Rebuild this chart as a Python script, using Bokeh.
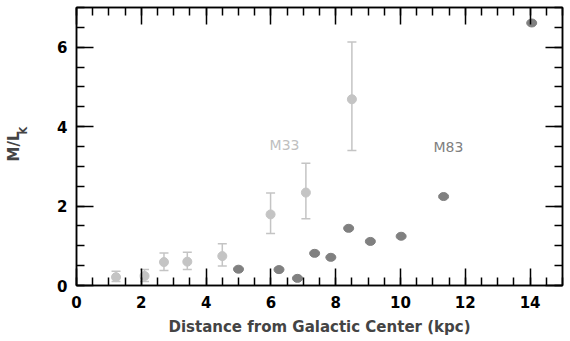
from bokeh.plotting import figure
from bokeh.models import (ColumnDataSource, Whisker, TeeHead, LinearAxis,
                          SingleIntervalTicker, FixedTicker, Range1d, Label)
from bokeh.embed import file_html
from bokeh.resources import INLINE

# M33 data (with error bars)
m33_r = [1.22, 2.1, 2.7, 3.42, 4.5, 5.99, 7.08, 8.5]
m33_ml = [0.21, 0.24, 0.59, 0.60, 0.74, 1.79, 2.34, 4.69]
m33_lo = [0.10, 0.10, 0.38, 0.40, 0.49, 1.31, 1.68, 3.40]
m33_hi = [0.36, 0.40, 0.82, 0.84, 1.05, 2.33, 3.08, 6.13]

# M83 data
m83_r = [5.0, 6.25, 6.82, 7.35, 7.85, 8.4, 9.07, 10.02, 11.33, 14.05]
m83_ml = [0.41, 0.40, 0.18, 0.81, 0.71, 1.44, 1.11, 1.24, 2.24, 6.61]

x_label = "Distance from Galactic Center (kpc)"
y_label = "M/L"
y_sub = "K"
FONT = "DejaVu Sans"
C33 = "#c4c4c4"
C83 = "#808080"

p = figure(width=570, height=341, output_backend="svg", toolbar_location=None,
           x_range=Range1d(0, 15), y_range=Range1d(0, 7),
           min_border_left=76, min_border_right=8, min_border_top=7,
           min_border_bottom=56, x_axis_location=None, y_axis_location=None)
p.xgrid.visible = False
p.ygrid.visible = False
p.outline_line_color = "black"
p.outline_line_width = 1.5
p.background_fill_color = "white"
p.border_fill_color = "white"


def make_axis(labels=True):
    ax = LinearAxis(ticker=SingleIntervalTicker(interval=2, num_minor_ticks=4))
    ax.major_tick_in = 17
    ax.major_tick_out = 0
    ax.minor_tick_in = 8
    ax.minor_tick_out = 0
    ax.major_tick_line_color = "black"
    ax.minor_tick_line_color = "black"
    ax.major_tick_line_width = 1.5
    ax.minor_tick_line_width = 1.5
    ax.axis_line_color = "black"
    ax.axis_line_width = 1.5
    ax.major_label_text_font = FONT
    ax.major_label_text_font_size = "15px"
    ax.major_label_text_font_style = "bold"
    ax.major_label_text_color = "black"
    if not labels:
        ax.major_label_text_font_size = "0px"
        ax.major_label_text_alpha = 0
    return ax


bottom = make_axis()
bottom.major_label_standoff = 10
bottom.axis_label = x_label
bottom.axis_label_text_font = FONT
bottom.axis_label_text_font_size = "15px"
bottom.axis_label_text_font_style = "bold"
bottom.axis_label_standoff = 7
p.add_layout(bottom, "below")

left = make_axis()
left.major_label_standoff = 9
p.add_layout(left, "left")

# outer axis carrying the y label "M/L" and its subscript "K" (as a tick label)
ylab = LinearAxis(ticker=FixedTicker(ticks=[3.9]))
ylab.major_label_overrides = {3.9: y_sub}
ylab.major_label_orientation = "vertical"
ylab.major_label_text_font = FONT
ylab.major_label_text_font_size = "10px"
ylab.major_label_text_font_style = "bold"
ylab.major_label_standoff = 25
ylab.axis_line_color = None
ylab.major_tick_line_color = None
ylab.minor_tick_line_color = None
ylab.major_tick_in = 0
ylab.major_tick_out = 0
ylab.axis_label = y_label
ylab.axis_label_text_font = FONT
ylab.axis_label_text_font_size = "15px"
ylab.axis_label_text_font_style = "bold"
ylab.axis_label_standoff = -7
p.add_layout(ylab, "left")

top = make_axis(labels=False)
p.add_layout(top, "above")
right = make_axis(labels=False)
p.add_layout(right, "right")

src33 = ColumnDataSource(dict(x=m33_r, y=m33_ml, lo=m33_lo, hi=m33_hi))
src83 = ColumnDataSource(dict(x=m83_r, y=m83_ml))

w = Whisker(source=src33, base="x", lower="lo", upper="hi", dimension="height",
            line_color=C33, line_width=1.5,
            lower_head=TeeHead(size=9, line_color=C33, line_width=1.5),
            upper_head=TeeHead(size=9, line_color=C33, line_width=1.5))
p.add_layout(w)

p.scatter("x", "y", source=src33, size=9, color=C33, line_color=C33)
p.ellipse("x", "y", source=src83, width=10, height=8, width_units="screen",
          height_units="screen", fill_color=C83, line_color=C83)

p.add_layout(Label(x=6.42, y=3.53, text="M33", text_font=FONT,
                   text_font_size="14px", text_color="#c0c0c0",
                   text_align="center", text_baseline="middle"))
p.add_layout(Label(x=11.48, y=3.5, text="M83", text_font=FONT,
                   text_font_size="14px", text_color=C83,
                   text_align="center", text_baseline="middle"))

open("out.html", "w").write(file_html(p, INLINE))
